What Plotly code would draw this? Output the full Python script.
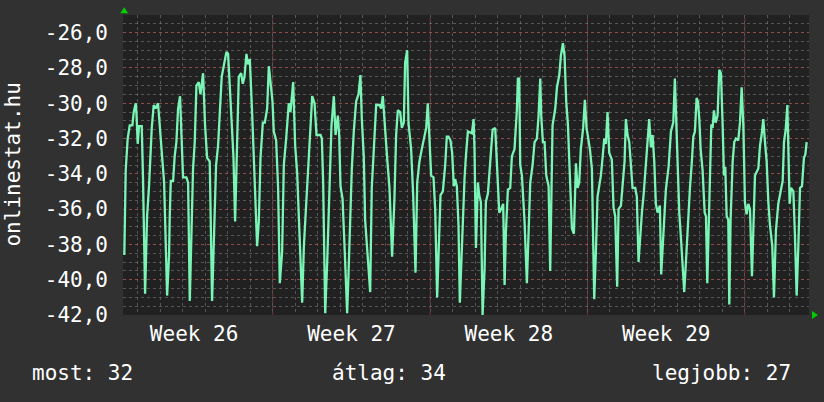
import plotly.graph_objects as go

# ---- data (hours since Monday 00:00 of Week 26, value) ----
HOURS = [
    9.5, 11.0, 13.1, 15.3, 18.1, 19.6, 21.7, 22.4, 23.8, 25.2, 28.1, 29.5, 31.7, 33.8, 35.9, 37.4, 38.8, 40.9, 43.0, 45.5,
    47.3, 49.8, 52.0, 55.2, 57.3, 58.0, 59.1, 61.6, 63.3, 65.1, 66.9, 69.0, 70.1, 71.2, 72.2, 75.8, 77.6, 79.4, 81.1, 82.9,
    84.7, 86.5, 89.0, 90.8, 93.6, 95.7, 97.9, 100.7, 103.2, 105.3, 107.5, 109.6, 111.4, 113.5, 116.0, 118.5, 120.3, 122.1, 123.9, 126.0,
    127.8, 130.0, 131.7, 134.2, 136.0, 137.8, 139.9, 141.4, 143.5, 146.0, 148.8, 151.3, 153.1, 154.9, 157.4, 159.5, 162.0, 163.8, 165.6, 167.7,
    169.1, 171.6, 173.7, 175.5, 178.0, 179.8, 182.3, 185.1, 186.9, 189.8, 191.9, 194.0, 196.9, 199.4, 201.2, 203.3, 204.7, 207.6, 210.1, 212.6,
    214.7, 219.0, 220.4, 221.8, 224.0, 226.1, 229.0, 230.7, 233.2, 235.0, 237.5, 238.9, 240.3, 242.5, 245.0, 247.4, 248.8, 250.9, 252.4, 254.5,
    257.0, 259.5, 261.6, 263.1, 265.2, 266.6, 269.5, 272.0, 273.7, 275.9, 278.4, 281.9, 283.7, 285.5, 287.3, 290.1, 292.6, 295.4, 297.9, 299.7,
    301.5, 304.0, 305.8, 307.9, 309.3, 311.5, 312.9, 315.7, 317.9, 320.4, 322.2, 324.6, 327.1, 329.3, 331.8, 333.5, 335.0, 337.1, 339.6, 341.4,
    343.5, 345.3, 347.1, 349.6, 352.1, 353.8, 355.6, 357.7, 359.5, 361.3, 362.7, 364.5, 366.3, 367.7, 369.9, 372.0, 372.7, 374.2, 376.3, 380.6,
    382.4, 383.4, 384.9, 387.0, 388.4, 390.2, 392.0, 394.1, 395.5, 397.7, 400.2, 402.7, 405.5, 407.6, 409.8, 411.9, 414.0, 415.5, 416.9, 419.0,
    421.5, 423.3, 426.1, 428.6, 429.7, 431.1, 432.2, 434.0, 436.8, 439.3, 441.1, 442.9, 445.4, 447.5, 450.0, 451.8, 453.6, 454.6, 456.4, 458.2,
    460.0, 462.5, 464.2, 465.3, 466.7, 469.6, 471.4, 473.9, 475.6, 477.8, 479.5, 481.3, 483.1, 484.9, 487.4, 489.5, 491.7, 493.4, 495.2, 496.9,
    499.4, 501.2, 503.0, 504.8, 506.6, 508.7, 510.1, 511.2, 513.0, 514.7, 516.5, 518.3, 520.1, 521.9, 523.6, 525.4, 527.2, 530.0, 531.8, 533.6,
    535.7, 537.2, 539.7, 541.4, 543.6, 545.0, 546.8, 548.6, 550.3, 552.1, 555.0, 556.7, 558.5, 560.3, 562.1, 563.9, 566.4, 568.1, 569.9, 571.7,
    573.5, 575.3, 577.0, 578.8, 581.3, 582.7, 584.2, 585.9, 587.7, 590.6, 593.1, 595.6, 597.3, 598.4, 600.2, 602.0, 604.1, 605.5, 607.3, 609.1,
    610.9, 613.4, 615.2, 617.0, 618.7, 620.5, 621.9, 623.4, 624.8, 626.9, 629.1, 630.5, 631.9, 633.3, 634.8, 636.2, 637.6, 639.0, 640.8, 642.9,
    644.7, 646.5, 648.3, 649.7, 651.1, 652.6, 654.3, 655.4, 656.8, 659.0, 660.7, 662.5, 665.0, 666.8, 668.6, 670.4, 672.1, 673.9, 675.7, 677.5,
    679.6, 681.0, 682.8, 686.4, 688.2, 689.9, 691.7, 693.5, 695.3, 697.1, 698.8, 701.3, 703.1, 705.2, 707.7, 710.2, 712.4, 713.8, 715.6, 717.4,
    718.4, 719.8, 721.3, 723.8, 725.5, 727.3, 729.1, 730.9, 733.0, 735.1, 736.6, 738.0,
]
VALUES = [
    -38.6, -33.8, -32.0, -31.25, -31.25, -30.5, -30.0, -30.5, -32.3, -31.3, -31.3, -34.3, -40.8, -36.4, -34.7, -33.0, -31.4, -30.1, -30.3, -30.0,
    -31.4, -33.0, -34.5, -40.9, -38.6, -36.4, -34.4, -34.4, -33.0, -32.2, -30.3, -29.6, -31.25, -33.1, -34.2, -34.2, -34.5, -41.2, -38.1, -33.7,
    -32.2, -29.0, -28.8, -29.5, -28.3, -31.25, -33.1, -33.3, -41.2, -36.9, -33.5, -32.4, -30.7, -28.5, -27.8, -27.1, -27.2, -29.1, -30.9, -33.0,
    -36.7, -32.8, -28.5, -28.3, -28.9, -28.5, -27.2, -27.8, -27.5, -30.6, -34.5, -38.1, -36.7, -33.1, -31.1, -31.1, -30.3, -27.9, -28.8, -29.9,
    -31.6, -32.1, -34.8, -40.2, -38.4, -33.5, -32.0, -30.0, -30.5, -28.8, -32.4, -33.9, -37.9, -41.3, -38.1, -36.2, -34.7, -32.0, -29.6, -30.0,
    -31.8, -31.8, -32.0, -34.5, -41.9, -39.0, -33.1, -31.25, -29.6, -31.8, -30.7, -31.8, -34.7, -35.4, -38.6, -41.9, -39.8, -35.4, -33.7, -31.6,
    -29.9, -29.5, -28.4, -30.9, -33.1, -36.6, -38.8, -40.7, -34.8, -32.8, -30.1, -30.1, -30.3, -29.6, -31.1, -33.1, -34.8, -38.7, -35.4, -31.8,
    -30.4, -30.5, -31.4, -31.1, -27.7, -27.0, -31.1, -32.6, -35.2, -39.6, -34.5, -33.3, -32.6, -32.0, -31.4, -30.0, -31.4, -34.1, -34.2, -36.0,
    -41.0, -38.6, -35.2, -35.0, -33.5, -31.9, -31.9, -32.1, -32.8, -34.7, -34.3, -34.7, -36.9, -41.3, -37.9, -35.3, -34.3, -33.0, -31.6, -31.7,
    -30.9, -32.6, -38.2, -34.5, -35.2, -35.6, -42.0, -39.4, -35.6, -35.1, -33.0, -31.5, -31.4, -33.6, -36.2, -36.0, -35.7, -40.3, -37.3, -34.9,
    -34.8, -33.0, -32.6, -30.4, -28.6, -28.6, -33.5, -34.1, -36.7, -40.2, -36.9, -34.5, -33.5, -32.2, -32.0, -30.7, -28.6, -30.7, -32.2, -32.2,
    -34.1, -34.7, -39.5, -34.8, -31.25, -30.3, -29.1, -28.4, -27.3, -26.6, -27.3, -29.9, -31.2, -33.7, -37.1, -37.4, -33.4, -34.8, -34.5, -32.6,
    -31.4, -29.8, -31.4, -32.0, -32.6, -33.7, -38.3, -41.1, -38.4, -35.3, -34.7, -34.1, -33.1, -32.0, -32.3, -30.5, -32.8, -33.2, -35.9, -36.4,
    -40.4, -36.0, -35.8, -34.8, -33.3, -30.9, -31.8, -32.2, -33.3, -34.8, -34.8, -35.3, -39.0, -37.3, -36.2, -35.2, -33.5, -32.4, -30.9, -32.5,
    -31.8, -33.3, -35.7, -36.2, -35.8, -39.7, -37.9, -36.6, -34.9, -33.6, -31.6, -31.1, -28.6, -30.7, -33.7, -36.2, -37.9, -39.0, -40.7, -39.0,
    -37.1, -34.8, -33.5, -31.9, -31.6, -29.7, -29.9, -30.9, -32.6, -33.8, -36.2, -36.4, -40.2, -37.1, -34.9, -31.2, -31.4, -30.4, -31.1, -30.7,
    -28.1, -28.3, -31.25, -34.1, -33.6, -36.4, -36.6, -41.4, -36.6, -33.3, -32.2, -32.0, -32.1, -31.1, -29.1, -31.25, -35.6, -36.3, -35.7, -36.0,
    -39.8, -37.1, -34.1, -33.7, -32.4, -31.8, -30.9, -32.2, -33.3, -35.6, -36.9, -38.1, -41.0, -37.2, -35.7, -35.0, -34.4, -32.2, -31.5, -30.1,
    -32.6, -35.7, -34.8, -35.0, -37.5, -40.9, -38.1, -34.8, -34.7, -33.1, -32.9, -32.2,
]

WEEK_LABELS = ["Week 26", "Week 27", "Week 28", "Week 29"]
WEEK_CENTERS = [84, 252, 420, 588]
WEEK_BOUNDS = [168, 336, 504, 672]
Y_TICKS = [-42, -40, -38, -36, -34, -32, -30, -28, -26]
STAT_LABELS = ["most", "átlag", "legjobb"]
STAT_VALUES = [32, 34, 27]

X_RANGE = [8.1, 740.5]
Y_RANGE = [-42, -25]

FONT = "DejaVu Sans Mono"
FS = 21
PAPER = "#313131"
PLOT_BG = "#212121"
LINE = "#7af5b6"
ARROW = "#00cc00"
MINOR_GRID = "rgba(130,130,130,0.55)"
MAJOR_GRID = "rgba(190,70,70,0.55)"

fig = go.Figure()
fig.add_trace(go.Scatter(x=HOURS, y=VALUES, mode="lines",
                         line=dict(color=LINE, width=2.3), hoverinfo="skip"))

for b in WEEK_BOUNDS:
    fig.add_shape(type="line", x0=b, x1=b, y0=0, y1=1, xref="x", yref="paper",
                  line=dict(color=MAJOR_GRID, width=1, dash="dot"), layer="below")

# rrdtool-style axis arrows (paper coordinates just outside the plot area)
fig.add_shape(type="path", xref="paper", yref="paper",
              path="M -0.0041,1.006 L 0.0076,1.006 L 0.00175,1.026 Z",
              fillcolor=ARROW, line=dict(width=0))
fig.add_shape(type="path", xref="paper", yref="paper",
              path="M 1.0044,-0.0133 L 1.0044,0.0133 L 1.0131,0 Z",
              fillcolor=ARROW, line=dict(width=0))

y_text = [f"{v:.1f}".replace(".", ",") for v in Y_TICKS]

fig.update_layout(
    width=824, height=402, autosize=False,
    margin=dict(l=123, r=15, t=15, b=87),
    paper_bgcolor=PAPER, plot_bgcolor=PLOT_BG,
    showlegend=False,
    font=dict(family=FONT, size=FS, color="#ffffff"),
    xaxis=dict(range=X_RANGE, tickvals=WEEK_CENTERS, ticktext=WEEK_LABELS,
               showgrid=False, zeroline=False, ticks="", ticklabelstandoff=4,
               minor=dict(dtick=24, tick0=0, showgrid=True, gridcolor=MINOR_GRID,
                          griddash="dot", gridwidth=1),
               tickfont=dict(family=FONT, size=FS, color="#ffffff")),
    yaxis=dict(range=Y_RANGE, tickvals=Y_TICKS, ticktext=y_text,
               showgrid=True, gridcolor=MAJOR_GRID, griddash="dot", gridwidth=1,
               zeroline=False, ticks="", ticklabelstandoff=14,
               minor=dict(dtick=0.5, tick0=0, showgrid=True, gridcolor=MINOR_GRID,
                          griddash="dot", gridwidth=1),
               tickfont=dict(family=FONT, size=FS, color="#ffffff")),
)

fig.add_annotation(text="onlinestat.hu", textangle=-90, xref="paper", yref="paper",
                   x=-0.161, y=0.5, xanchor="center", yanchor="middle", showarrow=False,
                   font=dict(family=FONT, size=FS, color="#ffffff"))

stat_x = [-0.1361, 0.3019, 0.9767]
stat_anchor = ["left", "left", "right"]
for lbl, val, sx, anc in zip(STAT_LABELS, STAT_VALUES, stat_x, stat_anchor):
    fig.add_annotation(text=f"{lbl}: {val}", xref="paper", yref="paper",
                       x=sx, y=-0.193, xanchor=anc, yanchor="middle", showarrow=False,
                       font=dict(family=FONT, size=FS, color="#ffffff"))

fig.write_html("out.html")
